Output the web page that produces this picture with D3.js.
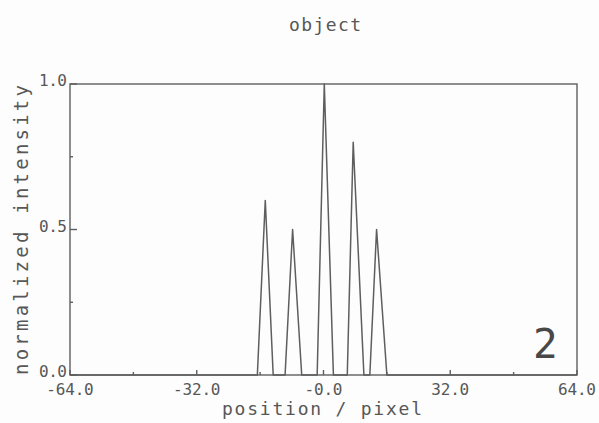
<!DOCTYPE html>
<html>
<head>
<meta charset="utf-8">
<script src="https://cdn.jsdelivr.net/npm/d3@7"></script>
<style>
  body { margin: 0; background: #fdfdfd; }
  text { font-family: "DejaVu Sans Mono", "Liberation Mono", monospace; fill: #575757; }
</style>
</head>
<body>
<script>
// profile of the object, sampled at the corners of each peak
const positions = [-64, -16.7, -14.7, -12.7, -9.7, -7.8, -5.5, -1.6, 0.2, 2.5, 6.0, 7.5, 10.2, 11.7, 13.4, 16.0, 64];
const intensity = [0, 0, 0.6, 0, 0, 0.5, 0, 0, 1.0, 0, 0, 0.8, 0, 0, 0.5, 0, 0];

const xTicks = [-64, -48, -32, -16, 0, 16, 32, 48, 64];
const xLabels = ['-64.0', '', '-32.0', '', '-0.0', '', '32.0', '', '64.0'];
const yTicks = [0, 0.25, 0.5, 0.75, 1];
const yLabels = ['0.0', '', '0.5', '', '1.0'];

const width = 599, height = 423;
const plotLeft = 70, plotRight = 577, plotTop = 84, plotBottom = 375;
const ink = '#5e5e5e';

const svg = d3.select('body').append('svg')
    .attr('width', width)
    .attr('height', height);

const x = d3.scaleLinear().domain([-64, 64]).range([plotLeft, plotRight]);
const y = d3.scaleLinear().domain([0, 1]).range([plotBottom, plotTop]);

// frame
svg.append('rect')
    .attr('x', plotLeft).attr('y', plotTop)
    .attr('width', plotRight - plotLeft).attr('height', plotBottom - plotTop)
    .attr('fill', 'none')
    .attr('stroke', ink)
    .attr('stroke-width', 1.4);

// x ticks (inward)
svg.append('g').selectAll('line')
    .data(xTicks)
    .enter().append('line')
    .attr('x1', d => x(d)).attr('x2', d => x(d))
    .attr('y1', plotBottom)
    .attr('y2', (d, i) => plotBottom - (xLabels[i] ? 5 : 3))
    .attr('stroke', ink)
    .attr('stroke-width', 1.4);

svg.append('g').selectAll('text')
    .data(xTicks)
    .enter().append('text')
    .attr('x', d => x(d))
    .attr('y', 395)
    .attr('text-anchor', 'middle')
    .attr('font-size', 16)
    .attr('textLength', (d, i) => xLabels[i].length * 9.5)
    .text((d, i) => xLabels[i]);

// y ticks (inward)
svg.append('g').selectAll('line')
    .data(yTicks)
    .enter().append('line')
    .attr('x1', plotLeft)
    .attr('x2', (d, i) => plotLeft + (yLabels[i] ? 7 : 3))
    .attr('y1', d => y(d)).attr('y2', d => y(d))
    .attr('stroke', ink)
    .attr('stroke-width', 1.4);

svg.append('g').selectAll('text')
    .data(yTicks)
    .enter().append('text')
    .attr('x', 67)
    .attr('y', d => y(d) + 2)
    .attr('text-anchor', 'end')
    .attr('font-size', 16)
    .attr('textLength', (d, i) => yLabels[i].length * 9.3)
    .text((d, i) => yLabels[i]);

// the profile
const line = d3.line()
    .x((d, i) => x(positions[i]))
    .y(d => y(d));

svg.append('path')
    .datum(intensity)
    .attr('d', line)
    .attr('fill', 'none')
    .attr('stroke', ink)
    .attr('stroke-width', 1.5)
    .attr('stroke-linejoin', 'round');

// titles
svg.append('text')
    .attr('x', 325).attr('y', 31)
    .attr('text-anchor', 'middle')
    .attr('font-size', 18)
    .attr('textLength', 72)
    .text('object');

svg.append('text')
    .attr('x', 322).attr('y', 415)
    .attr('text-anchor', 'middle')
    .attr('font-size', 18)
    .attr('textLength', 200)
    .text('position / pixel');

svg.append('text')
    .attr('transform', 'translate(28,230) rotate(-90)')
    .attr('text-anchor', 'middle')
    .attr('font-size', 19)
    .attr('textLength', 290)
    .text('normalized intensity');

// panel number
svg.append('text')
    .attr('x', 533).attr('y', 358)
    .attr('font-family', '"Liberation Sans", Arial, sans-serif')
    .attr('font-size', 41)
    .style('fill', '#484848')
    .text('2');
</script>
</body>
</html>
